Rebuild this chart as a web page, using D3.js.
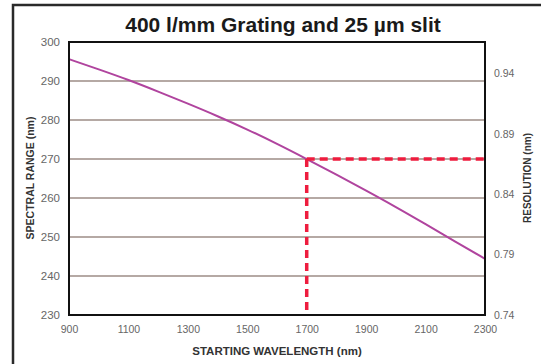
<!DOCTYPE html>
<html><head><meta charset="utf-8">
<script src="https://cdn.jsdelivr.net/npm/d3@7"></script>
<style>
body{margin:0;background:#fff;}
svg{display:block;}
text{font-family:"Liberation Sans",Arial,sans-serif;}
</style></head>
<body>
<svg id="c" width="541" height="364"></svg>
<script>
// Data
const wavelengths = [900,1000,1100,1200,1300,1400,1500,1600,1700,1800,1900,2000,2100,2200,2300];
const spectralRange = [295.6,293.0,290.3,287.3,284.2,281.0,277.6,273.9,270.0,266.0,261.9,257.7,253.3,248.8,244.4];
const xTicks = [900,1100,1300,1500,1700,1900,2100,2300];
const yTicks = [230,240,250,260,270,280,290,300];
const resolutionTicks = [0.74,0.79,0.84,0.89,0.94];
const markerWavelength = [1700];
const markerRange = [270];

const svg = d3.select("#c");
const L=69, R=485, T=42, B=315;
const x = d3.scaleLinear().domain([900,2300]).range([L,R]);
const y = d3.scaleLinear().domain([230,300]).range([B,T]);
const yr = d3.scaleLinear().domain([0.74,0.74+0.05*(B-T)/60.4]).range([B,T]);
const FONT = "Liberation Sans, Arial, sans-serif";

// outer frame
svg.append("rect").attr("x",13).attr("y",5).attr("width",540).attr("height",370)
  .attr("fill","none").attr("stroke","#2a2a2a").attr("stroke-width",2.5);

// title
svg.append("text").attr("x",283).attr("y",32).attr("text-anchor","middle")
  .attr("font-size",21).attr("font-weight","bold").attr("fill","#1a1a1a")
  .text("400 l/mm Grating and 25 µm slit");

// gridlines
svg.append("g").selectAll("line").data(yTicks.filter(d=>d>230&&d<300)).join("line")
  .attr("x1",L).attr("x2",R).attr("y1",d=>y(d)).attr("y2",d=>y(d))
  .attr("stroke","#9c8c86").attr("stroke-width",1.5);

// left axis labels
const gl = svg.append("g").attr("transform",`translate(${L-9},0)`)
  .call(d3.axisLeft(y).tickValues(yTicks).tickSize(0).tickPadding(0).tickFormat(d3.format("d")));
gl.select(".domain").remove();
gl.selectAll("text").attr("font-size",11.5).attr("fill","#666").attr("font-family",FONT);

// right axis labels
const gr = svg.append("g").attr("transform",`translate(${R+9},0)`)
  .call(d3.axisRight(yr).tickValues(resolutionTicks).tickSize(0).tickPadding(0).tickFormat(d3.format(".2f")));
gr.select(".domain").remove();
gr.selectAll("text").attr("font-size",10.5).attr("fill","#666").attr("font-family",FONT);

// bottom axis labels
const gb = svg.append("g").attr("transform",`translate(0,${B+11})`)
  .call(d3.axisBottom(x).tickValues(xTicks).tickSize(0).tickPadding(0).tickFormat(d3.format("d")));
gb.select(".domain").remove();
gb.selectAll("text").attr("font-size",10.5).attr("fill","#666").attr("font-family",FONT);

// axis titles
svg.append("text").attr("x",277).attr("y",355).attr("text-anchor","middle")
  .attr("font-size",11.5).attr("font-weight","bold").attr("fill","#333")
  .text("STARTING WAVELENGTH (nm)");
svg.append("text").attr("transform","translate(34,178) rotate(-90)").attr("text-anchor","middle")
  .attr("font-size",10.5).attr("font-weight","bold").attr("fill","#333")
  .text("SPECTRAL RANGE (nm)");
svg.append("text").attr("transform","translate(531,178) rotate(-90)").attr("text-anchor","middle")
  .attr("font-size",10).attr("font-weight","bold").attr("fill","#333")
  .text("RESOLUTION (nm)");

// curve
const line = d3.line().x((d,i)=>x(wavelengths[i])).y(d=>y(d)).curve(d3.curveBasis);
svg.append("path").datum(spectralRange).attr("d",line)
  .attr("fill","none").attr("stroke","#b0449e").attr("stroke-width",2);

// red dashed markers
const mx = x(markerWavelength[0]), my = y(markerRange[0]);
svg.append("line").attr("x1",mx).attr("x2",mx).attr("y1",my).attr("y2",B)
  .attr("stroke","#ee1c3e").attr("stroke-width",3.5).attr("stroke-dasharray","8,5");
svg.append("line").attr("x1",mx).attr("x2",R).attr("y1",my).attr("y2",my)
  .attr("stroke","#ee1c3e").attr("stroke-width",3.5).attr("stroke-dasharray","8,5");

// plot frame
svg.append("rect").attr("x",L).attr("y",T).attr("width",R-L).attr("height",B-T)
  .attr("fill","none").attr("stroke","#111").attr("stroke-width",2);
</script>
</body></html>
